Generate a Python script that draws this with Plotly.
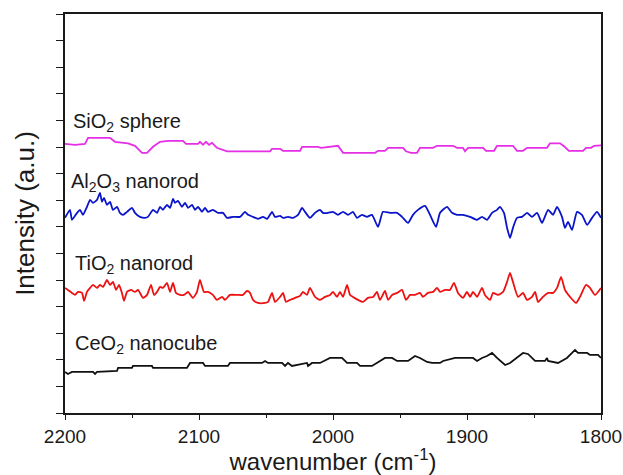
import plotly.graph_objects as go

# ---------------- data (wavenumber in cm-1, stacked intensity in a.u.) ----------------
WN_SIO2 = [2200.0, 2192.5, 2185.1, 2182.8, 2166.4, 2162.7, 2153.0, 2147.8, 2142.5, 2138.8,
           2134.3, 2129.1, 2123.1, 2111.9, 2109.7, 2100.7, 2099.3, 2097.0, 2094.8, 2092.5,
           2090.3, 2086.6, 2079.1, 2047.0, 2045.5, 2039.5, 2037.3, 2024.6, 2023.1, 2011.2,
           2008.9, 1996.3, 1992.5, 1968.6, 1966.4, 1961.2, 1958.9, 1947.7, 1945.5, 1941.8,
           1937.3, 1935.1, 1925.4, 1922.4, 1910.4, 1907.4, 1903.0, 1901.5, 1899.2, 1888.0,
           1885.8, 1879.8, 1877.6, 1865.7, 1862.7, 1858.2, 1855.2, 1840.3, 1838.1, 1830.6,
           1827.6, 1823.9, 1813.4, 1811.2, 1807.4, 1805.2, 1800.0]
I_SIO2 = [269, 268, 269, 275, 275, 271, 269.5, 267, 260, 260,
          266, 271, 272, 272, 269, 269, 271, 268, 271, 268,
          270, 265, 261.5, 261.5, 264, 264, 262, 262, 266, 266,
          265, 267, 260, 260, 262, 262, 265, 265, 261.5, 260,
          260, 265, 265, 267, 267, 265, 265, 261.5, 265, 265,
          262, 262, 267, 267, 262, 262, 265, 265, 269.5, 269.5,
          266.5, 262, 262, 265, 265, 267, 267.5]

WN_AL2O3 = [2200.0, 2196.3, 2194.8, 2191.0, 2188.8, 2186.6, 2183.6, 2181.3, 2179.1, 2176.1,
            2173.9, 2172.4, 2170.9, 2168.7, 2166.4, 2164.2, 2161.2, 2159.0, 2156.7, 2153.7,
            2150.0, 2147.8, 2144.0, 2140.3, 2138.1, 2134.3, 2131.3, 2129.1, 2126.9, 2123.9,
            2121.6, 2119.4, 2117.9, 2115.7, 2112.7, 2110.4, 2108.2, 2105.2, 2103.0, 2100.7,
            2097.8, 2095.5, 2093.3, 2089.6, 2085.8, 2082.1, 2079.1, 2074.6, 2069.4, 2065.7,
            2063.4, 2059.7, 2056.0, 2052.2, 2049.2, 2045.5, 2043.3, 2039.5, 2037.3, 2033.6,
            2029.8, 2026.1, 2023.1, 2020.9, 2017.2, 2013.4, 2009.7, 2007.5, 2003.7, 2000.0,
            1996.3, 1992.5, 1988.8, 1985.1, 1982.1, 1978.4, 1974.6, 1970.9, 1966.4, 1962.7,
            1957.5, 1952.2, 1948.5, 1944.0, 1940.3, 1936.6, 1931.3, 1927.6, 1923.1, 1920.1,
            1914.9, 1911.2, 1907.4, 1903.0, 1897.7, 1892.5, 1888.8, 1885.1, 1881.3, 1877.6,
            1875.4, 1872.4, 1870.1, 1867.9, 1865.7, 1862.7, 1858.9, 1855.2, 1851.5, 1847.7,
            1844.0, 1839.5, 1835.8, 1832.8, 1829.1, 1826.9, 1824.6, 1821.6, 1817.9, 1814.2,
            1810.4, 1806.7, 1803.0, 1800.0]
I_AL2O3 = [195, 203, 193, 200, 203, 198, 206, 213, 210, 213,
           220, 211, 215, 208, 211, 203, 206, 200, 198, 201,
           205, 200, 196, 195, 196, 203, 200, 206, 203, 208,
           205, 214, 210, 212, 206, 210, 205, 208, 203, 206,
           201, 205, 201, 203, 200, 200, 195, 196, 196, 201,
           198, 196, 194, 196, 194, 201, 196, 197, 195, 196,
           195, 198, 205, 201, 195, 200, 203, 200, 200, 201,
           198, 201, 198, 201, 195, 198, 196, 198, 186, 201,
           200, 200, 196, 190, 198, 203, 207, 198, 186, 200,
           206, 200, 198, 198, 196, 193, 196, 193, 200, 203,
           206, 200, 185, 175, 185, 195, 196, 200, 196, 200,
           190, 203, 198, 206, 196, 185, 191, 183, 201, 198,
           188, 195, 201, 195]

WN_TIO2 = [2200.0, 2197.8, 2194.8, 2192.5, 2190.3, 2187.3, 2185.8, 2183.6, 2181.3, 2179.1,
           2176.1, 2173.9, 2171.6, 2168.7, 2166.4, 2164.2, 2161.9, 2159.7, 2157.5, 2156.0,
           2153.7, 2150.7, 2147.8, 2145.5, 2141.8, 2138.8, 2135.8, 2133.6, 2131.3, 2129.1,
           2126.9, 2123.9, 2121.6, 2119.4, 2117.2, 2114.2, 2111.2, 2108.2, 2104.5, 2101.5,
           2099.3, 2096.3, 2093.3, 2089.6, 2086.6, 2082.8, 2080.6, 2076.9, 2071.6, 2067.2,
           2064.2, 2061.9, 2059.7, 2056.0, 2050.7, 2048.5, 2045.5, 2043.3, 2039.5, 2037.3,
           2035.1, 2032.1, 2028.4, 2024.6, 2022.4, 2019.4, 2017.2, 2013.4, 2009.7, 2006.0,
           2002.2, 2000.0, 1997.0, 1994.8, 1992.5, 1989.5, 1987.3, 1985.1, 1981.3, 1977.6,
           1973.9, 1970.1, 1967.2, 1964.9, 1961.2, 1958.9, 1955.9, 1952.2, 1948.5, 1945.5,
           1942.5, 1938.8, 1935.1, 1932.8, 1929.1, 1925.4, 1922.4, 1920.1, 1916.4, 1912.7,
           1909.7, 1906.7, 1903.0, 1900.0, 1897.7, 1895.5, 1892.5, 1888.8, 1886.6, 1882.8,
           1880.6, 1876.9, 1873.1, 1870.1, 1867.9, 1865.7, 1861.9, 1858.2, 1855.2, 1851.5,
           1849.2, 1847.0, 1843.3, 1839.5, 1835.8, 1832.8, 1829.8, 1826.9, 1823.1, 1818.6,
           1815.7, 1811.2, 1808.2, 1804.5, 1800.0]
I_TIO2 = [125, 123, 120, 118, 121, 120, 112, 121, 125, 128,
          125, 128, 126, 133, 128, 131, 123, 128, 120, 112,
          121, 123, 121, 123, 115, 118, 128, 118, 121, 126,
          125, 130, 121, 130, 120, 118, 118, 121, 115, 121,
          133, 121, 121, 118, 113, 116, 113, 118, 118, 118,
          122, 120, 113, 110, 110, 111, 120, 111, 116, 120,
          111, 113, 115, 117, 121, 118, 125, 116, 113, 116,
          118, 121, 116, 121, 116, 128, 118, 116, 113, 111,
          115, 116, 121, 113, 122, 113, 118, 120, 123, 113,
          118, 118, 120, 116, 120, 121, 125, 121, 123, 123,
          130, 120, 115, 121, 116, 121, 116, 125, 118, 113,
          120, 118, 121, 131, 140, 131, 116, 120, 113, 116,
          121, 111, 116, 120, 120, 125, 136, 123, 116, 110,
          116, 128, 125, 118, 125]

WN_CEO2 = [2200.0, 2197.8, 2194.8, 2179.1, 2177.6, 2176.1, 2161.2, 2160.4, 2150.0, 2149.3,
           2135.1, 2134.3, 2109.0, 2106.7, 2097.0, 2095.5, 2078.4, 2076.9, 2053.0, 2050.7,
           2048.5, 2038.0, 2035.8, 2033.6, 2030.6, 2019.4, 2018.6, 2015.7, 2009.7, 2002.2,
           1993.3, 1989.5, 1982.1, 1979.8, 1970.9, 1967.2, 1961.2, 1955.9, 1952.2, 1944.0,
           1938.8, 1935.1, 1929.8, 1926.1, 1920.1, 1917.9, 1908.9, 1895.5, 1892.5, 1888.8,
           1885.1, 1881.3, 1877.6, 1871.6, 1867.9, 1858.2, 1854.5, 1849.2, 1841.8, 1840.3,
           1839.5, 1832.1, 1825.4, 1819.4, 1817.2, 1810.4, 1808.2, 1802.2, 1800.0]
I_CEO2 = [41, 39, 41, 41, 39, 41, 42, 45, 45, 47,
          47, 45, 45, 50, 50, 47, 47, 50, 50, 52,
          50, 50, 47, 50, 47, 50, 47, 50, 50, 55,
          55, 50, 50, 47, 47, 50, 55, 55, 52, 52,
          57, 55, 51, 50, 50, 52, 55, 55, 52, 55,
          57, 60, 55, 48, 50, 60, 59, 52, 52, 55,
          52, 50, 55, 63, 60, 60, 58, 58, 55]

# (name, x, y, colour, smooth)
SERIES = [
    ("SiO2", WN_SIO2, I_SIO2, "#e62ee6", False),
    ("Al2O3", WN_AL2O3, I_AL2O3, "#0a14c8", True),
    ("TiO2", WN_TIO2, I_TIO2, "#ee1111", True),
    ("CeO2", WN_CEO2, I_CEO2, "#111111", False),
]

# labels: (text, wavenumber, intensity)
LABELS = [
    ("SiO<sub>2</sub> sphere", 2195.5, 290.0),
    ("Al<sub>2</sub>O<sub>3</sub> nanorod", 2197.0, 230.0),
    ("TiO<sub>2</sub> nanorod", 2194.0, 148.0),
    ("CeO<sub>2</sub> nanocube", 2194.0, 68.0),
]

X_TICKS = [2200, 2100, 2000, 1900, 1800]
X_MINOR = [2150, 2050, 1950, 1850]
Y_MAX = 398.7
Y_TICK_COUNT = 15

FONT = "Liberation Sans, Arial, sans-serif"
INK = "#1a1a1a"

fig = go.Figure()
for name, wn, inten, color, smooth in SERIES:
    line = dict(color=color, width=1.8)
    if smooth:
        line.update(shape="spline", smoothing=0.5)
    fig.add_trace(go.Scatter(x=wn, y=inten, mode="lines", name=name,
                             line=line, showlegend=False))

for text, xv, yv in LABELS:
    fig.add_annotation(x=xv, y=yv, xref="x", yref="y", text=text, showarrow=False,
                       xanchor="left", yanchor="middle",
                       font=dict(family=FONT, size=20, color=INK))

fig.update_layout(
    width=623, height=475,
    margin=dict(l=65, r=22, t=14, b=62),
    paper_bgcolor="white", plot_bgcolor="white",
    font=dict(family=FONT, color=INK),
)
fig.update_xaxes(
    automargin=False,
    range=[2200, 1800], tickmode="array", tickvals=X_TICKS,
    ticks="outside", ticklen=5, tickwidth=1.2, tickcolor=INK,
    minor=dict(tickmode="array", tickvals=X_MINOR, ticks="outside", ticklen=3, tickcolor=INK),
    showline=True, linecolor=INK, linewidth=1.5, mirror=True,
    showgrid=False, zeroline=False,
    tickfont=dict(family=FONT, size=19, color=INK),
    title=dict(text="wavenumber (cm<sup>-1</sup>)", font=dict(family=FONT, size=24, color=INK), standoff=6),
)
fig.update_yaxes(
    automargin=False,
    range=[0, Y_MAX], tickmode="array",
    tickvals=[Y_MAX * k / Y_TICK_COUNT for k in range(Y_TICK_COUNT + 1)],
    showticklabels=False,
    ticks="outside", ticklen=7, tickwidth=1.2, tickcolor=INK,
    showline=True, linecolor=INK, linewidth=1.5, mirror=True,
    showgrid=False, zeroline=False,
    title=dict(text="Intensity (a.u.)", font=dict(family=FONT, size=26, color=INK), standoff=14),
)

fig.write_html("out.html")
